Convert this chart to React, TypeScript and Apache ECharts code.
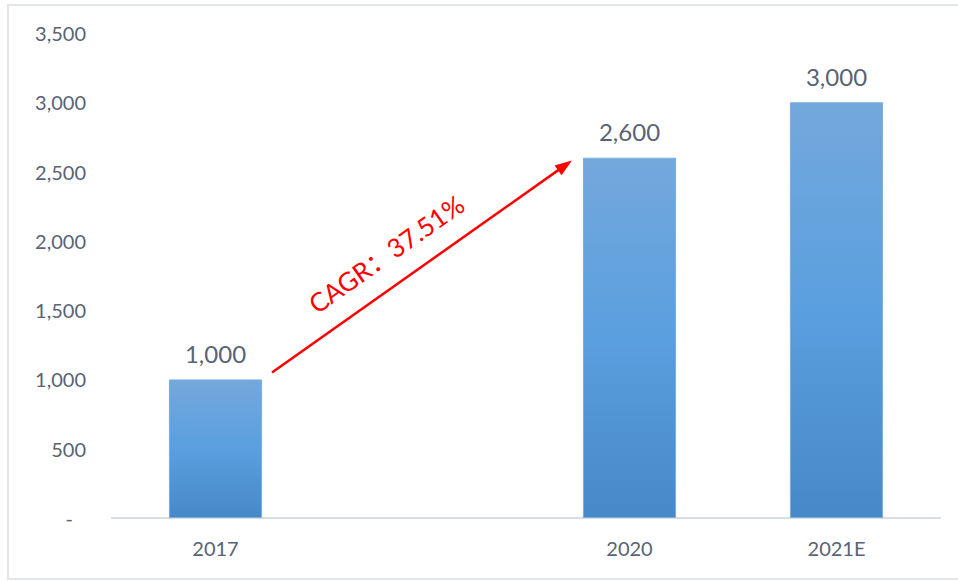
import React, { useEffect, useRef } from 'react';
import * as echarts from 'echarts';

const categories = ['2017', '', '2020', '2021E'];
const values: (number | null)[] = [1000, null, 2600, 3000];
const yMax = 3500;
const yInterval = 500;
const cagrLabel = 'CAGR：37.51%';
const arrowStartValue = 1050;
const arrowEndValue = 2580;

const textColor = '#586375';
const fontFamily = 'Lato, "Noto Sans", sans-serif';

export default function App() {
  const ref = useRef<HTMLDivElement>(null);

  useEffect(() => {
    document.body.style.margin = '0';
    const chart = echarts.init(ref.current!, null, { renderer: 'svg' });
    chart.setOption({
      animation: false,
      backgroundColor: '#ffffff',
      grid: { left: 112, right: 18, top: 33, bottom: 63, containLabel: false },
      xAxis: {
        type: 'category',
        data: categories,
        axisLine: { show: true, lineStyle: { color: '#d9dde4', width: 2 } },
        axisTick: { show: false },
        axisLabel: { color: textColor, fontSize: 20, fontFamily, margin: 20 },
      },
      yAxis: {
        type: 'value',
        min: 0,
        max: yMax,
        interval: yInterval,
        axisLine: { show: false },
        axisTick: { show: false },
        splitLine: { show: false },
        axisLabel: {
          color: textColor,
          fontSize: 20,
          fontFamily,
          margin: 26,
          formatter: (v: number) => (v === 0 ? '{d|-}' : v.toLocaleString('en-US')),
          rich: { d: { color: textColor, fontSize: 20, fontFamily, padding: [0, 13, 0, 0] } },
        },
      },
      series: [
        {
          type: 'bar',
          data: values,
          barWidth: '45%',
          itemStyle: {
            color: new echarts.graphic.LinearGradient(0, 0, 0, 1, [
              { offset: 0, color: '#73a8dc' },
              { offset: 0.5, color: '#5a9fdf' },
              { offset: 1, color: '#4788c8' },
            ]),
            borderColor: '#7aaee0',
            borderWidth: 1,
          },
          label: {
            show: true,
            position: 'top',
            distance: 14,
            color: textColor,
            fontSize: 24,
            fontFamily,
            formatter: (p: any) => (p.value == null ? '' : Number(p.value).toLocaleString('en-US')),
          },
        },
      ],
    });

    const c0 = chart.convertToPixel({ gridIndex: 0 }, [0, arrowStartValue]) as number[];
    const c1 = chart.convertToPixel({ gridIndex: 0 }, [1, arrowStartValue]) as number[];
    const c2 = chart.convertToPixel({ gridIndex: 0 }, [2, arrowEndValue]) as number[];
    const band = c1[0] - c0[0];
    const x0 = c0[0] + 0.273 * band;
    const y0 = c0[1];
    const x1 = c2[0] - 0.278 * band;
    const y1 = c2[1];
    const dx = x1 - x0;
    const dy = y1 - y0;
    const len = Math.sqrt(dx * dx + dy * dy);
    const ux = dx / len;
    const uy = dy / len;
    const headLen = 17;
    const headHalf = 6;
    const bx = x1 - ux * headLen;
    const by = y1 - uy * headLen;
    const px = -uy;
    const py = ux;
    const mx = (x0 + x1) / 2;
    const my = (y0 + y1) / 2;
    const nx = uy;
    const ny = -ux;
    const tx = mx - ux * 22 + nx * 31;
    const ty = my - uy * 22 + ny * 31;
    const angle = Math.atan2(-dy, dx);

    chart.setOption({
      graphic: [
        {
          type: 'rect',
          shape: { x: 8, y: 5, width: 960, height: 574 },
          style: { fill: 'none', stroke: '#e2e6eb', lineWidth: 2 },
          silent: true,
        },
        {
          type: 'line',
          shape: { x1: x0, y1: y0, x2: bx + ux * 2, y2: by + uy * 2 },
          style: { stroke: '#ff0000', lineWidth: 2.5 },
        },
        {
          type: 'polygon',
          shape: {
            points: [
              [x1, y1],
              [bx + px * headHalf, by + py * headHalf],
              [bx - px * headHalf, by - py * headHalf],
            ],
          },
          style: { fill: '#ff0000' },
        },
        {
          type: 'text',
          x: tx,
          y: ty,
          rotation: angle,
          style: {
            text: cagrLabel,
            fill: '#ff0000',
            fontSize: 26,
            fontFamily: 'Lato, "Noto Sans CJK SC", sans-serif',
            align: 'center',
            verticalAlign: 'middle',
          },
        },
      ],
    });

    return () => chart.dispose();
  }, []);

  return <div ref={ref} style={{ width: 958, height: 581 }} />;
}
